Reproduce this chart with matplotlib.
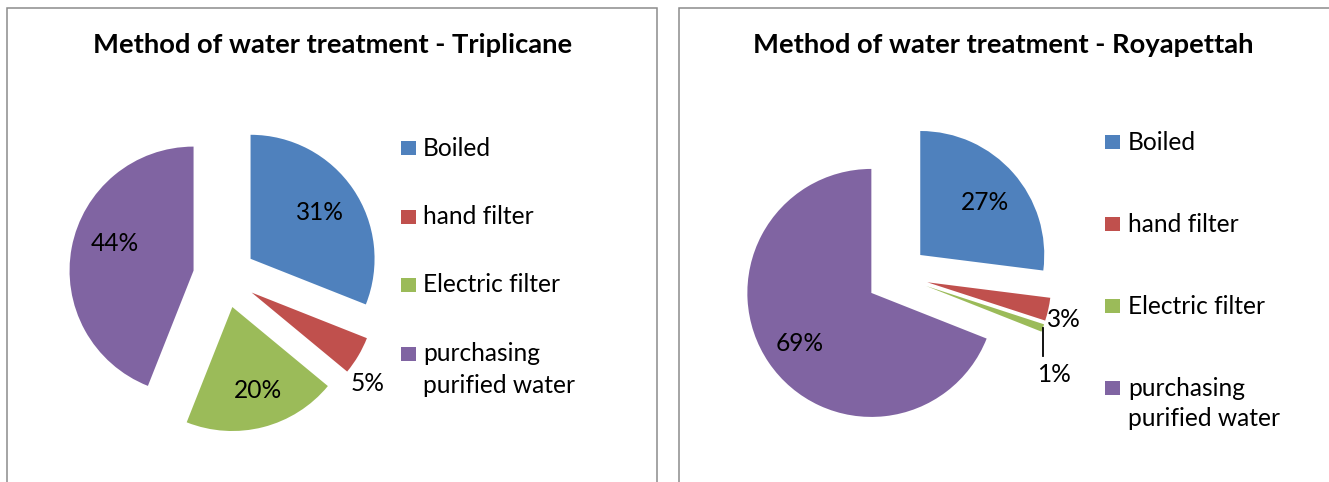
import numpy as np
import matplotlib
matplotlib.use("Agg")
import matplotlib.pyplot as plt
from matplotlib.patches import Rectangle

# ---------------- data ----------------
categories = ["Boiled", "hand filter", "Electric filter", "purchasing\npurified water"]
triplicane_values = [31, 5, 20, 44]
royapettah_values = [27, 3, 1, 69]
titles = ["Method of water treatment - Triplicane", "Method of water treatment - Royapettah"]
colors = ["#4F81BD", "#C0504D", "#9BBB59", "#8064A2"]

# ---------------- layout ----------------
W, H = 1329, 482
DPI = 100
FONT = "Lato"

fig = plt.figure(figsize=(W / DPI, H / DPI), dpi=DPI)
ax = fig.add_axes([0, 0, 1, 1])
renderer = fig.canvas.get_renderer()


def fit_size(text, target_w, weight="normal", base=20.0):
    t = ax.text(0, 0, text, fontsize=base, family=FONT, weight=weight)
    w = t.get_window_extent(renderer).width
    t.remove()
    return base * target_w / w


title_size = fit_size(titles[0], 479, weight="bold")
text_size = fit_size("Electric filter", 138)

def Y(y):  # image (top-down) pixel -> axes y (bottom-up)
    return H - y

panels = [
    dict(values=triplicane_values, title=titles[0], title_x=332.5,
         center=(224.5, 276.5), radius=124, explode=31.5,
         label_pos=[(0.67, -0.5), (1.19, -7.4), (0.70, 2.6), (0.67, -8.0)],
         leader=[False, False, False, False],
         leg_sq_x=401, leg_txt_x=423, leg_y0=148, leg_dy=68.5, line_dy=32,
         border=(7, 650)),
    dict(values=royapettah_values, title=titles[1], title_x=1003.5,
         center=(897, 275.5), radius=124, explode=31,
         label_pos=[(0.67, -2.6), (1.14, -2.7), (1.25, -14.9), (0.71, 0.8)],
         leader=[False, False, True, False],
         leg_sq_x=1105, leg_txt_x=1128, leg_y0=142, leg_dy=82, line_dy=31,
         border=(679, 700)),
]

for p in panels:
    cx, cy = p["center"]
    wedges, _ = ax.pie(p["values"], colors=colors, startangle=90, counterclock=False,
                       explode=[p["explode"]] * len(p["values"]),
                       center=(cx, Y(cy)), radius=p["radius"],
                       wedgeprops=dict(linewidth=0))
    total = sum(p["values"])
    for w, v, (frac, dang), lead in zip(wedges, p["values"], p["label_pos"], p["leader"]):
        mid = np.deg2rad((w.theta1 + w.theta2) / 2 + dang)
        wx, wy = w.center
        lx = wx + frac * w.r * np.cos(mid)
        ly = wy + frac * w.r * np.sin(mid)
        ax.text(lx, ly, f"{round(100 * v / total)}%", ha="center", va="center",
                fontsize=text_size, family=FONT, color="black", zorder=5)
        if lead:
            m0 = np.deg2rad((w.theta1 + w.theta2) / 2)
            sx = wx + w.r * np.cos(m0)
            sy = wy + w.r * np.sin(m0)
            ax.plot([sx, sx], [sy, ly + 18], color="black", lw=1.3, zorder=5)
    # title
    ax.text(p["title_x"], Y(45), p["title"], ha="center", va="center",
            fontsize=title_size, family=FONT, weight="bold", color="black")
    # legend
    for i, (lab, col) in enumerate(zip(categories, colors)):
        yc = p["leg_y0"] + i * p["leg_dy"]
        ax.add_patch(Rectangle((p["leg_sq_x"], Y(yc) - 7), 15, 14, facecolor=col,
                               edgecolor="none"))
        for j, line in enumerate(lab.split("\n")):
            ax.text(p["leg_txt_x"], Y(yc + j * p["line_dy"]), line, ha="left", va="center",
                    fontsize=text_size, family=FONT, color="black")
    # panel border
    bx, bw = p["border"]
    ax.add_patch(Rectangle((bx, -20), bw, Y(8) + 20, facecolor="none",
                           edgecolor="#8c8c8c", linewidth=1.1, zorder=0))

ax.set_xlim(0, W)
ax.set_ylim(0, H)
ax.set_aspect("auto")
ax.axis("off")
fig.savefig("out.png", dpi=DPI, facecolor="white")
